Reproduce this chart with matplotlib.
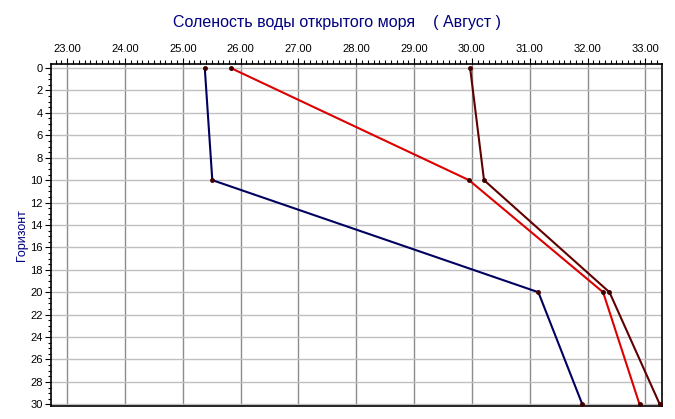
import matplotlib.pyplot as plt
from matplotlib.ticker import MultipleLocator

depth = [0, 10, 20, 30]
salt_blue = [25.38, 25.51, 31.15, 31.91]
salt_red = [25.83, 29.95, 32.27, 32.90]
salt_dark = [29.97, 30.21, 32.38, 33.25]

plt.rcParams['font.family'] = ['Liberation Sans', 'DejaVu Sans']

fig = plt.figure(figsize=(6.75, 4.19), dpi=100)
ax = fig.add_axes([51 / 675, 1 - 406 / 419, 610.5 / 675, 342 / 419])

for xs, c in [(salt_blue, '#000060'), (salt_red, '#dd0000'), (salt_dark, '#600000')]:
    ax.plot(xs, depth, color=c, linewidth=1.5, marker='o', markersize=2.5,
            markerfacecolor='#400000', markeredgecolor='#400000', zorder=3)

ax.set_xlim(22.72, 33.28)
ax.set_ylim(30.15, -0.36)

ax.xaxis.tick_top()
ax.xaxis.set_major_locator(MultipleLocator(1))
ax.xaxis.set_minor_locator(MultipleLocator(0.1))
ax.xaxis.set_major_formatter(lambda v, p: f'{v:.2f}')
ax.yaxis.set_major_locator(MultipleLocator(2))
ax.yaxis.set_minor_locator(MultipleLocator(0.5))

ax.tick_params(axis='x', which='major', length=4, labelsize=8, pad=3)
ax.tick_params(axis='x', which='minor', length=3, width=0.8)
ax.tick_params(axis='y', which='major', length=4, labelsize=8, pad=2)
ax.tick_params(axis='y', which='minor', length=2, width=0.8)

ax.grid(True, axis='x', which='major', color='#8c8c8c', linewidth=1)
ax.grid(True, axis='y', which='major', color='#c0c0c0', linewidth=1)
ax.set_axisbelow(True)

for s in ax.spines.values():
    s.set_linewidth(1.2)

ax.set_ylabel('Горизонт', color='#000080', fontsize=9)
ax.yaxis.set_label_coords((28 - 51) / 610.5, 0.5)
fig.text(337 / 675, 1 - 22 / 419, 'Соленость воды открытого моря    ( Август )',
         ha='center', va='center', color='#000080', fontsize=11.5)

fig.savefig('out.png', dpi=100)
